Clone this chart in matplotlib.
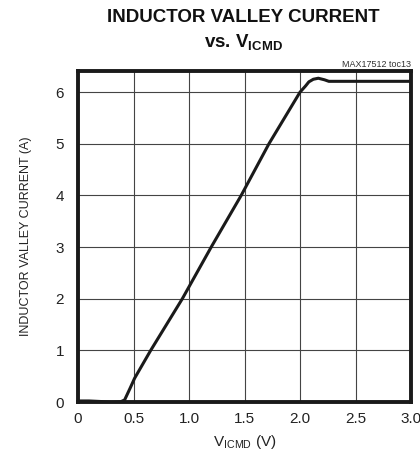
import matplotlib
matplotlib.use('Agg')
import matplotlib.pyplot as plt

plt.rcParams['font.family'] = ['Liberation Sans', 'DejaVu Sans']
plt.rcParams['mathtext.fontset'] = 'custom'
plt.rcParams['mathtext.rm'] = 'Liberation Sans'
plt.rcParams['mathtext.bf'] = 'Liberation Sans:bold'

v_icmd = [0.0, 0.1, 0.2, 0.3, 0.38, 0.42, 0.47, 0.51, 0.655, 0.94, 1.20, 1.47,
          1.72, 2.0, 2.05, 2.08, 2.12, 2.165, 2.22, 2.26, 3.0]
i_valley = [0.02, 0.02, 0.01, -0.01, 0.0, 0.04, 0.27, 0.46, 1.0, 2.0, 3.0, 4.0,
            5.0, 6.0, 6.12, 6.2, 6.25, 6.27, 6.24, 6.21, 6.21]
xticks = [0, 0.5, 1.0, 1.5, 2.0, 2.5, 3.0]
xlabels = ['0', '0.5', '1.0', '1.5', '2.0', '2.5', '3.0']
yticks = [0, 1, 2, 3, 4, 5, 6]

fig = plt.figure(figsize=(4.2, 4.65), dpi=100)
ax = fig.add_axes([78/420, 1-402/465, 333/420, 331/465])

ax.plot(v_icmd, i_valley, color='#1a1a1a', lw=2.2, solid_capstyle='round', zorder=3)

ax.set_xlim(0, 3.0)
ax.set_ylim(0, 6.41)
ax.set_xticks(xticks)
ax.set_xticklabels(xlabels)
ax.set_yticks(yticks)
ax.grid(True, color='#444444', lw=0.8)
ax.tick_params(length=0, labelsize=11, colors='#222222')
ax.tick_params(axis='x', pad=7)
ax.tick_params(axis='y', pad=10)
for s in ax.spines.values():
    s.set_linewidth(2.8)
    s.set_color('#1a1a1a')

ax.set_xlabel(r'V$_{\rm ICMD}$ (V)', fontsize=11, color='#222222', labelpad=5)
ax.set_ylabel('INDUCTOR VALLEY CURRENT (A)', fontsize=9, color='#222222', labelpad=17)

fig.text(243/420, 1-18/465, 'INDUCTOR VALLEY CURRENT', ha='center', va='center',
         fontsize=13.5, weight='bold', color='#111111')
fig.text(243/420, 1-43/465, r'vs. V$_{\bf ICMD}$', ha='center', va='center',
         fontsize=13.5, weight='bold', color='#111111')
fig.text(411/420, 1-64/465, 'MAX17512 toc13', ha='right', va='center',
         fontsize=6.5, color='#333333')

plt.savefig('out.png', dpi=100, facecolor='white')
